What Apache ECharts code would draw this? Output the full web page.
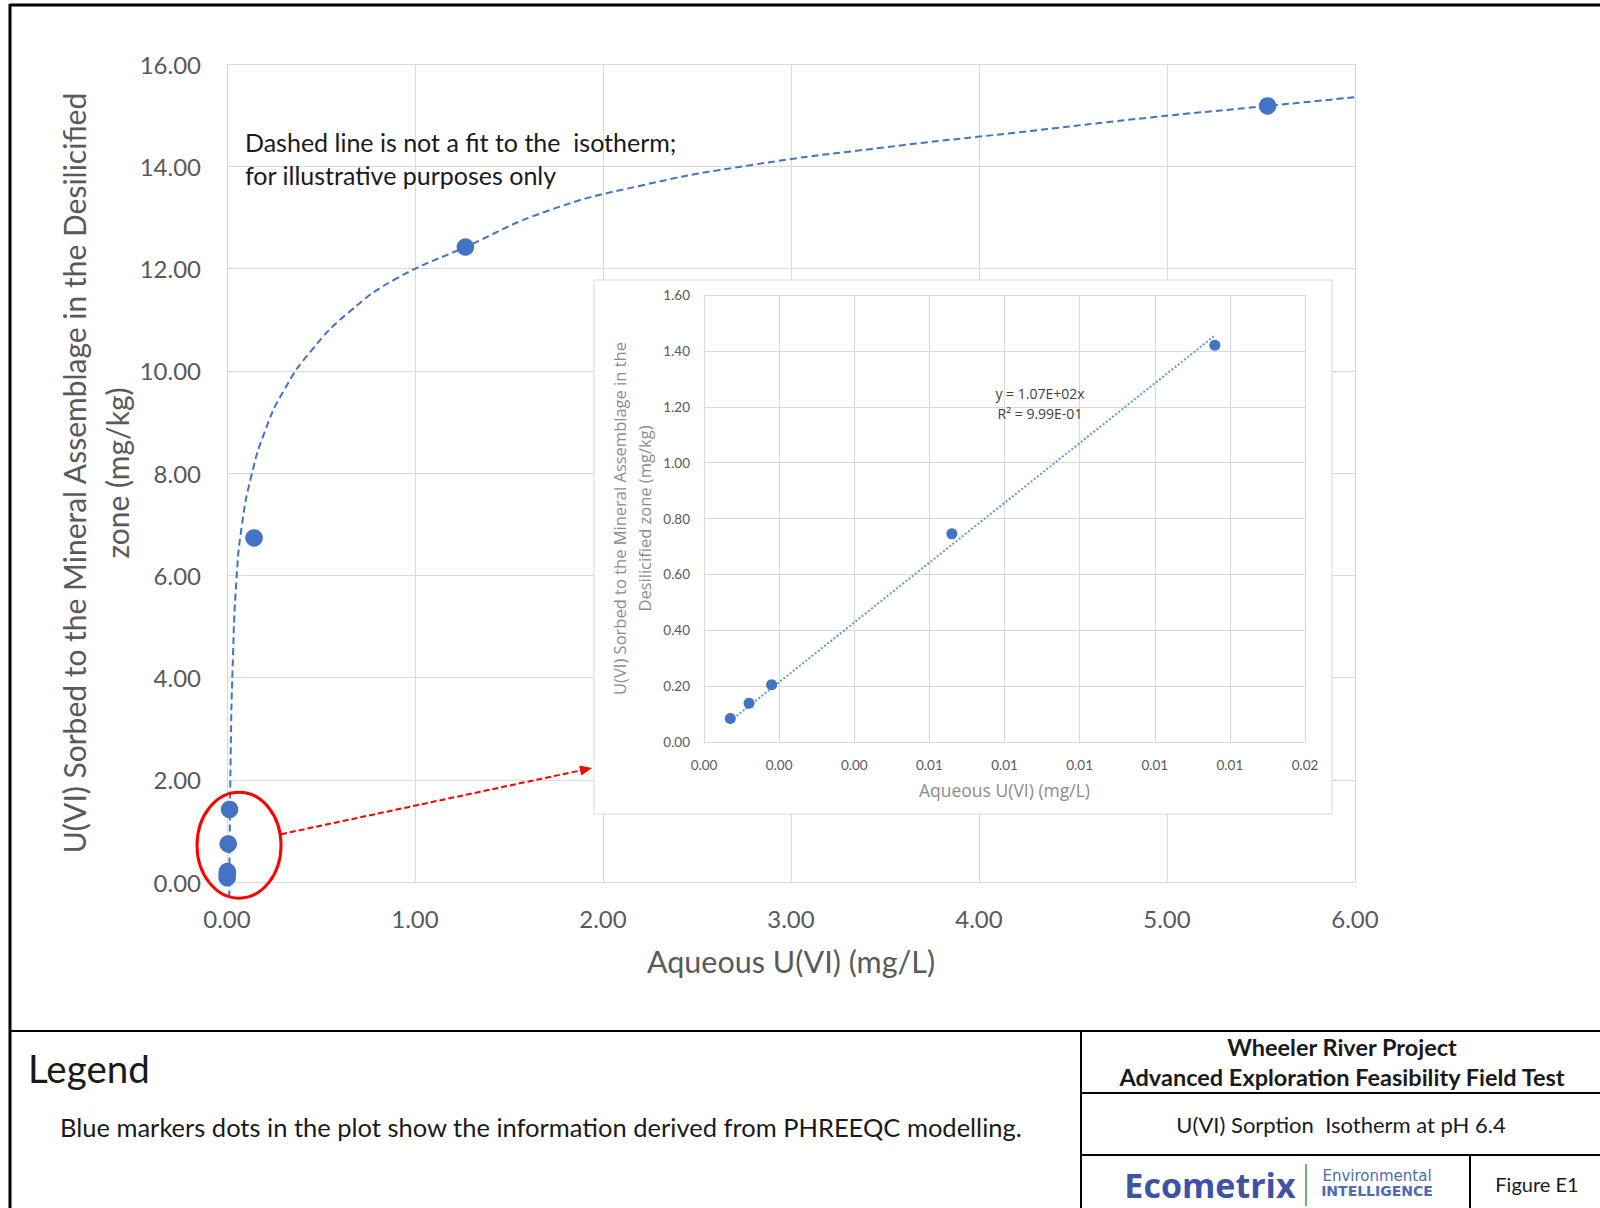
<!DOCTYPE html>
<html>
<head>
<meta charset="utf-8">
<title>U(VI) Sorption Isotherm at pH 6.4</title>
<script src="https://cdn.jsdelivr.net/npm/echarts@6/dist/echarts.min.js"></script>
<style>
  html, body { margin: 0; padding: 0; background: #fff; }
  #chart { width: 1600px; height: 1208px; }
</style>
</head>
<body>
<div id="chart"></div>
<script>
  // PHREEQC results (aqueous mg/L vs sorbed mg/kg)
  var aqueousU = [0.0007, 0.0012, 0.0018, 0.0066, 0.0136, 0.144, 1.268, 5.535]
  var sorbedU = [0.084, 0.139, 0.205, 0.745, 1.42, 6.73, 12.42, 15.18]
  // the five low points are repeated in the zoomed inset
  var insetCount = 5

  // dashed illustrative curve
  var curveX = [0.012, 0.02, 0.03, 0.05, 0.08, 0.13, 0.2, 0.3, 0.45, 0.65, 0.9, 1.268, 1.7, 2.2, 2.8, 3.5, 4.2, 4.9, 5.535, 6.0]
  var curveY = [-0.3, 2.6, 4.2, 5.9, 7.0, 7.95, 8.8, 9.6, 10.4, 11.15, 11.8, 12.42, 13.12, 13.62, 14.03, 14.37, 14.66, 14.95, 15.18, 15.35]

  // inset linear trend line end points (y = 1.07E+02x)
  var trendX = [0.0007, 0.0136]
  var trendY = [0.075, 1.455]

  // axis ranges / tick steps
  var mainXTicks = [0, 6, 1]
  var mainYTicks = [0, 16, 2]
  var insetXTicks = [0, 0.016, 0.002]
  var insetYTicks = [0, 1.6, 0.2]

  var FONT = 'Lato, "Open Sans", "Noto Sans", sans-serif'
  var WIDE = '"Open Sans", Lato, sans-serif'
  var GRID = '#D9D9D9'
  var BLUE = '#4472C4'

  var chart = echarts.init(document.getElementById('chart'), null, { renderer: 'svg' })

  function pairs(xs, ys, n) {
    var out = []
    for (var i = 0; i < (n || xs.length); i++) out.push([xs[i], ys[i]])
    return out
  }
  function fix2(v) { return (Math.round(v * 100) / 100).toFixed(2) }

  var mainGrid = { left: 227, top: 64, width: 1128, height: 818 }
  var insetGrid = { left: 704, top: 295, width: 601, height: 447 }
  var insetBox = { x: 594, y: 280, width: 738, height: 534 }

  function valueAxis(idx, t, o) {
    return Object.assign({
      type: 'value', gridIndex: idx,
      min: t[0], max: t[1], interval: t[2],
      axisLine: { show: true, lineStyle: { color: GRID, width: 1 } },
      axisTick: { show: false },
      splitLine: { show: true, lineStyle: { color: GRID, width: 1 } },
      nameLocation: 'middle',
      nameMoveOverlap: false
    }, o)
  }

  var option = {
    animation: false,
    backgroundColor: '#fff',
    grid: [
      Object.assign({ containLabel: false }, mainGrid),
      Object.assign({ containLabel: false, z: 6 }, insetGrid)
    ],
    xAxis: [
      valueAxis(0, mainXTicks, {
        axisLabel: { formatter: fix2, color: '#595959', fontSize: 24, fontFamily: FONT, margin: 24 },
        name: 'Aqueous U(VI) (mg/L)', nameGap: 63,
        nameTextStyle: { color: '#595959', fontSize: 30.5, fontFamily: FONT }
      }),
      valueAxis(1, insetXTicks, {
        z: 6,
        axisLabel: { formatter: fix2, color: '#595959', fontSize: 13.5, fontFamily: FONT, margin: 16 },
        name: 'Aqueous U(VI) (mg/L)', nameGap: 39,
        nameTextStyle: { color: '#8C8C8C', fontSize: 17.5, fontFamily: WIDE }
      })
    ],
    yAxis: [
      valueAxis(0, mainYTicks, {
        axisLabel: { formatter: fix2, color: '#595959', fontSize: 24, fontFamily: FONT, margin: 26 },
        name: 'U(VI) Sorbed to the Mineral Assemblage in the Desilicified\nzone (mg/kg)', nameGap: 89,
        nameTextStyle: { color: '#595959', fontSize: 30, fontFamily: FONT, lineHeight: 43, align: 'center' }
      }),
      valueAxis(1, insetYTicks, {
        z: 6,
        axisLabel: { formatter: fix2, color: '#595959', fontSize: 13.5, fontFamily: FONT, margin: 14 },
        name: 'U(VI) Sorbed to the Mineral Assemblage in the\nDesilicified zone (mg/kg)', nameGap: 47,
        nameTextStyle: { color: '#8C8C8C', fontSize: 16.5, fontFamily: WIDE, lineHeight: 25, align: 'center' }
      })
    ],
    series: [
      {
        name: 'curve', type: 'line', xAxisIndex: 0, yAxisIndex: 0,
        data: pairs(curveX, curveY), showSymbol: false, clip: false,
        smooth: 0.5,
        lineStyle: { color: BLUE, width: 2, type: [7, 4] }, z: 2
      },
      {
        name: 'PHREEQC', type: 'scatter', xAxisIndex: 0, yAxisIndex: 0,
        data: pairs(aqueousU, sorbedU), symbolSize: 17.5,
        itemStyle: { color: BLUE, opacity: 1 }, z: 3
      },
      {
        name: 'trend', type: 'line', xAxisIndex: 1, yAxisIndex: 1,
        data: pairs(trendX, trendY), showSymbol: false,
        lineStyle: { color: '#5B9BD5', width: 2, type: [2, 2] }, z: 7
      },
      {
        name: 'PHREEQC inset', type: 'scatter', xAxisIndex: 1, yAxisIndex: 1,
        data: pairs(aqueousU, sorbedU, insetCount), symbolSize: 11,
        itemStyle: { color: BLUE, opacity: 1 }, z: 8
      }
    ]
  }
  chart.setOption(option)

  // annotations + title block
  var lowCenter = chart.convertToPixel({ gridIndex: 0 }, [0.064, 0.72])
  var ell = { cx: lowCenter[0], cy: lowCenter[1], rx: 42, ry: 53 }
  var arrowStart = [ell.cx + ell.rx, ell.cy - 11]
  var arrowEnd = [insetBox.x - 2, 768]
  var ang = Math.atan2(arrowEnd[1] - arrowStart[1], arrowEnd[0] - arrowStart[0])
  var head = 12
  function rot(dx, dy) {
    return [arrowEnd[0] + dx * Math.cos(ang) - dy * Math.sin(ang), arrowEnd[1] + dx * Math.sin(ang) + dy * Math.cos(ang)]
  }
  var black = '#000'
  var txt = function (x, y, s, font, o) {
    return {
      type: 'text', x: x, y: y, z: 20,
      style: Object.assign({ text: s, font: font, fill: '#1a1a1a', align: 'left', verticalAlign: 'middle' }, o || {})
    }
  }
  var line = function (x1, y1, x2, y2, w) {
    return { type: 'line', z: 20, shape: { x1: x1, y1: y1, x2: x2, y2: y2 }, style: { stroke: black, lineWidth: w || 2 } }
  }

  chart.setOption({
    graphic: [
      { type: 'rect', z: 5, shape: insetBox, style: { fill: '#fff', stroke: GRID, lineWidth: 1 } },
      { type: 'ellipse', z: 20, shape: ell, style: { fill: null, stroke: '#FF0000', lineWidth: 3 } },
      { type: 'line', z: 20, shape: { x1: arrowStart[0], y1: arrowStart[1], x2: arrowEnd[0] - 8 * Math.cos(ang), y2: arrowEnd[1] - 8 * Math.sin(ang) },
        style: { stroke: '#FF0000', lineWidth: 2, lineDash: [6, 3] } },
      { type: 'polygon', z: 20, shape: { points: [arrowEnd, rot(-head, -5), rot(-head, 5)] }, style: { fill: '#FF0000' } },

      txt(245, 142, 'Dashed line is not a fit to the  isotherm;', '25px ' + FONT),
      txt(245, 175, 'for illustrative purposes only', '25px ' + FONT),
      txt(1040, 393, 'y = 1.07E+02x', '14px ' + WIDE, { align: 'center', fill: '#404040' }),
      txt(1040, 413, 'R\u00b2 = 9.99E-01', '14px ' + WIDE, { align: 'center', fill: '#404040' }),

      // frame
      line(10, 5, 1600, 5, 3),
      line(10, 4, 10, 1208, 3),
      line(10, 1031, 1600, 1031, 2),
      line(1081, 1031, 1081, 1208, 2),
      line(1081, 1093, 1600, 1093, 2),
      line(1081, 1155, 1600, 1155, 2),
      line(1470, 1155, 1470, 1208, 2),

      txt(28, 1068, 'Legend', '38.5px ' + FONT),
      txt(60, 1127, 'Blue markers dots in the plot show the information derived from PHREEQC modelling.', '25.5px ' + FONT),
      txt(1342, 1047, 'Wheeler River Project', 'bold 23.5px ' + FONT, { align: 'center' }),
      txt(1342, 1077, 'Advanced Exploration Feasibility Field Test', 'bold 23.5px ' + FONT, { align: 'center' }),
      txt(1341, 1124, 'U(VI) Sorption  Isotherm at pH 6.4', '22px ' + FONT, { align: 'center' }),
      txt(1210, 1185, 'Ecometrix', 'bold 34px ' + WIDE, { align: 'center', fill: '#4052A6' }),
      { type: 'rect', z: 20, shape: { x: 1305, y: 1164, width: 2, height: 42 }, style: { fill: '#6DB56D' } },
      txt(1377, 1176, 'Environmental', '15px "DejaVu Sans", sans-serif', { align: 'center', fill: '#4A6CB3' }),
      txt(1377, 1191, 'INTELLIGENCE', 'bold 14px "DejaVu Sans", sans-serif', { align: 'center', fill: '#4A6CB3' }),
      txt(1537, 1184, 'Figure E1', '20px ' + FONT, { align: 'center' })
    ]
  })
</script>
</body>
</html>
